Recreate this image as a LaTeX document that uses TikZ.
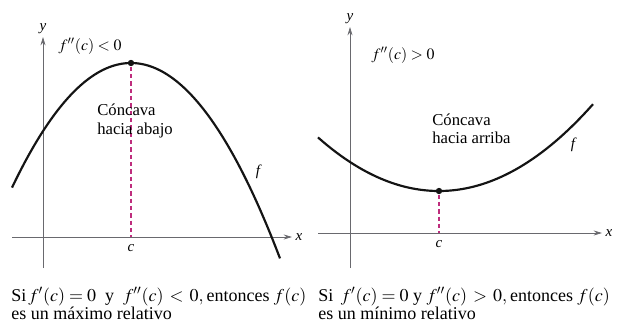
\documentclass[tikz,border=0pt]{standalone}
\usepackage{mathptmx}
\usepackage[no-math]{fontspec}
\setmainfont{Liberation Serif}
\usetikzlibrary{arrows.meta, positioning}
\definecolor{axisgray}{RGB}{105,105,110}
\definecolor{dashmagenta}{RGB}{190,45,125}
\definecolor{curveblack}{RGB}{20,20,20}
\tikzset{
  axis/.style={draw=axisgray, line width=0.5pt, -{Stealth[length=5pt, width=3pt]}},
  curve/.style={draw=curveblack, line width=1.3pt, smooth, samples=60},
  guide/.style={draw=dashmagenta, line width=1pt, dash pattern=on 2.6pt off 1.8pt},
  critpt/.style={circle, fill=curveblack, inner sep=0pt, minimum size=3.8pt},
  axlabel/.style={font=\fontsize{9}{10}\selectfont\itshape, inner sep=1pt},
  condlabel/.style={font=\fontsize{9.5}{11}\selectfont, inner sep=0pt},
  notebox/.style={font=\fontsize{10}{11}\selectfont, align=left, inner sep=0pt},
  caption/.style={font=\fontsize{10.8}{11}\selectfont, align=left, inner sep=0pt}
}
\begin{document}
\begin{tikzpicture}[x=0.6pt, y=-0.6pt]
  \useasboundingbox (0,0) rectangle (619,327);

  % maximo relativo
  \coordinate (oxL) at (12,237);
  \coordinate (exL) at (292,237);
  \coordinate (oyL) at (43,268);
  \coordinate (eyL) at (43,37);
  \draw[axis] (oxL) -- (exL);
  \draw[axis] (oyL) -- (eyL);
  \node[axlabel, right=1pt of exL] (xL) {x};
  \node[axlabel, above=1pt of eyL] (yL) {y};

  \draw[curve, domain=12:280] plot (\x, {63+0.88*((\x-131)/10)^2});
  \node[critpt] (maxpt) at (131,63) {};
  \coordinate (cL) at (131,237);
  \draw[guide] (maxpt) -- (cL);
  \node[axlabel, below=3pt of cL] (cLlab) {c};
  \node[axlabel] (fL) at (258,172) {f};

  \node[condlabel] (condL) at (90,46) {$f''(c)<0$};
  \node[notebox, anchor=west] (noteL) at (97,121) {Cóncava\\hacia abajo};
  \node[caption, anchor=north west] (capL) at (11,287)
    {Si$\,f'(c)=0$\ \ y\ \ $f''(c)\,<\,0,$\,entonces $f(c)$\\es un máximo relativo};

  % minimo relativo
  \coordinate (oxR) at (318,233);
  \coordinate (exR) at (602,233);
  \coordinate (oyR) at (350,268);
  \coordinate (eyR) at (350,27);
  \draw[axis] (oxR) -- (exR);
  \draw[axis] (oyR) -- (eyR);
  \node[axlabel, right=1pt of exR] (xR) {x};
  \node[axlabel, above=1pt of eyR] (yR) {y};

  \draw[curve, domain=318:593] plot (\x, {191-0.366*((\x-439)/10)^2});
  \node[critpt] (minpt) at (439,191) {};
  \coordinate (cR) at (439,233);
  \draw[guide] (minpt) -- (cR);
  \node[axlabel, below=3pt of cR] (cRlab) {c};
  \node[axlabel] (fR) at (573,145) {f};

  \node[condlabel] (condR) at (403,55) {$f''(c)>0$};
  \node[notebox, anchor=west] (noteR) at (432,129) {Cóncava\\hacia arriba};
  \node[caption, anchor=north west] (capR) at (318,287)
    {Si \,$f'(c)=0$ y $f''(c)\,>\,0,$\,entonces $f(c)$\\es un mínimo relativo};
\end{tikzpicture}
\end{document}
